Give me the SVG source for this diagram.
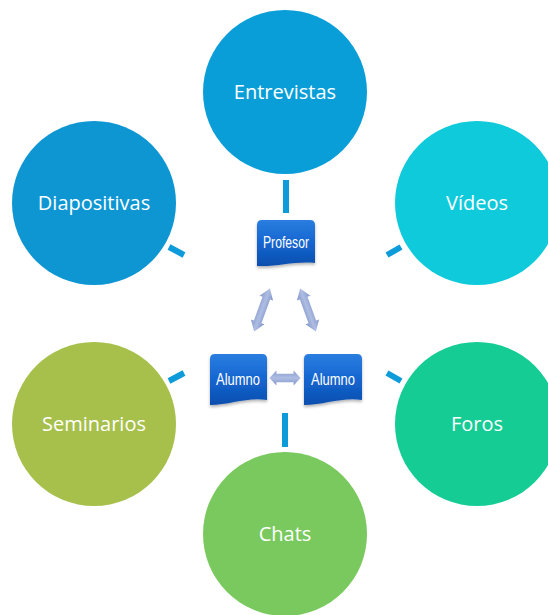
<svg xmlns="http://www.w3.org/2000/svg" width="548" height="615" viewBox="0 0 548 615">
<defs>
<linearGradient id="boxg" x1="0" y1="0" x2="0" y2="1">
<stop offset="0" stop-color="#2a7ee0"/>
<stop offset="0.5" stop-color="#1565d0"/>
<stop offset="1" stop-color="#0a4eae"/>
</linearGradient>
<linearGradient id="arrg" x1="0" y1="0" x2="0" y2="1">
<stop offset="0" stop-color="#8699cc"/>
<stop offset="0.5" stop-color="#aebde2"/>
<stop offset="1" stop-color="#7f93c8"/>
</linearGradient>
<filter id="sh" x="-20%" y="-20%" width="140%" height="150%">
<feDropShadow dx="0" dy="2" stdDeviation="1.5" flood-color="#000" flood-opacity="0.3"/>
</filter>
<path id="dblarrow" d="M-20,0 L-11,-8 L-11,-4.5 L11,-4.5 L11,-8 L20,0 L11,8 L11,4.5 L-11,4.5 L-11,8 Z"/>
</defs>
<style>
.circ text{font-family:"Open Sans","Liberation Sans",sans-serif;font-size:20px;fill:#fff;text-anchor:middle}
.box text{font-family:"Liberation Sans",sans-serif;font-size:16.5px;fill:#fff;text-anchor:middle}
.con line{stroke:#0e9bd9;stroke-width:6}
.arr use{fill:url(#arrg)}
</style>
<g id="entrevistas" class="circ"><circle cx="285" cy="92" r="82" fill="#0a9ed8"/><text x="285" y="99">Entrevistas</text></g>
<g id="diapositivas" class="circ"><circle cx="94" cy="203" r="82" fill="#0e96d3"/><text x="94" y="210">Diapositivas</text></g>
<g id="videos" class="circ"><circle cx="477" cy="203" r="82" fill="#0fcadb"/><text x="477" y="210">Vídeos</text></g>
<g id="seminarios" class="circ"><circle cx="94" cy="424" r="82" fill="#a6c04b"/><text x="94" y="431">Seminarios</text></g>
<g id="foros" class="circ"><circle cx="477" cy="424" r="82" fill="#14cc94"/><text x="477" y="431">Foros</text></g>
<g id="chats" class="circ"><circle cx="285" cy="534" r="82" fill="#7ac95e"/><text x="285" y="541">Chats</text></g>
<g id="connectors" class="con">
<line x1="286" y1="180" x2="286" y2="213"/>
<line x1="169" y1="247" x2="184" y2="255"/>
<line x1="387" y1="255" x2="401" y2="247"/>
<line x1="169" y1="381" x2="184" y2="373"/>
<line x1="387" y1="373" x2="401" y2="381"/>
<line x1="285" y1="413" x2="285" y2="447"/>
</g>
<g id="arrows" class="arr">
<use href="#dblarrow" transform="translate(262,310) rotate(-70) scale(1.15,0.9)"/>
<use href="#dblarrow" transform="translate(308,310) rotate(70) scale(1.15,0.9)"/>
<use href="#dblarrow" transform="translate(285,378) scale(0.78,0.95)"/>
</g>
<g id="profesor" class="box"><path d="M257,225 q0,-5 5,-5 h48 q5,0 5,5 v38 c-20,-2 -38,4 -58,3 z" fill="url(#boxg)" filter="url(#sh)"/><text x="286" y="248" textLength="46" lengthAdjust="spacingAndGlyphs">Profesor</text></g>
<g id="alumno1" class="box"><path d="M210,359 q0,-5 5,-5 h47 q5,0 5,5 v41 c-20,-3 -37,5 -57,5 z" fill="url(#boxg)" filter="url(#sh)"/><text x="238" y="385" textLength="44" lengthAdjust="spacingAndGlyphs">Alumno</text></g>
<g id="alumno2" class="box"><path d="M304,359 q0,-5 5,-5 h48 q5,0 5,5 v41 c-20,-3 -38,5 -58,5 z" fill="url(#boxg)" filter="url(#sh)"/><text x="333" y="385" textLength="44" lengthAdjust="spacingAndGlyphs">Alumno</text></g>
</svg>
